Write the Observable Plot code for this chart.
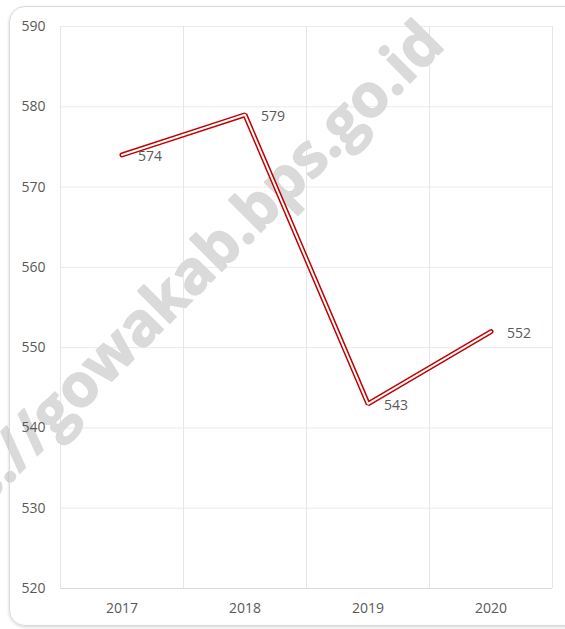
<!DOCTYPE html>
<html>
<head>
<meta charset="utf-8">
<script src="https://cdn.jsdelivr.net/npm/d3@7"></script>
<script src="https://cdn.jsdelivr.net/npm/@observablehq/plot@0.6"></script>
<style>
  html, body { margin: 0; padding: 0; background: #fff; }
  #wrap { position: relative; width: 565px; height: 629px; overflow: hidden; }
  #frame {
    position: absolute; left: 9px; top: 6px; width: 600px; height: 620px;
    border: 1.5px solid #dadada; border-radius: 16px;
    box-shadow: 0 1px 3px rgba(0,0,0,0.18);
    pointer-events: none; box-sizing: border-box;
  }
</style>
</head>
<body>
<div id="wrap"><div id="frame"></div></div>
<script>
const years = [2017, 2018, 2019, 2020];
const values = [574, 579, 543, 552];
const yTicks = [520, 530, 540, 550, 560, 570, 580, 590];
const watermark = ["https://gowakab.bps.go.id"];

const data = years.map((year, i) => ({ year, value: values[i] }));
const boundaries = [years[0] - 0.5, ...years.map(y => y + 0.5)];
const font = "'Open Sans', sans-serif";
const red = "#C00000";

const chart = Plot.plot({
  width: 565,
  height: 629,
  marginLeft: 60,
  marginRight: 13,
  marginTop: 26,
  marginBottom: 41,
  style: { fontFamily: font, fontSize: "14px", color: "#595959", background: "white" },
  x: { domain: [years[0] - 0.5, years[years.length - 1] + 0.5], label: null },
  y: { domain: [520, 590], label: null },
  marks: [
    Plot.ruleY(yTicks.slice(1), { y: d => d, stroke: "#ebebeb", strokeWidth: 1 }),
    Plot.ruleX(boundaries, { x: d => d, stroke: "#e6e6e6", strokeWidth: 1 }),
    Plot.ruleY([520], { stroke: "#d9d9d9", strokeWidth: 1 }),
    Plot.text(watermark, {
      text: d => d, frameAnchor: "top-right", dx: -106, dy: 20,
      textAnchor: "end", lineAnchor: "bottom", rotate: -45, fontSize: 60, fontWeight: "bold",
      fill: "#dadada", stroke: "#dadada", strokeWidth: 1.4, fontFamily: font
    }),
    Plot.axisY({ ticks: yTicks, tickSize: 0, tickPadding: 15, tickFormat: "d", fill: "#595959", fontSize: 14 }),
    Plot.axisX({ ticks: years, tickSize: 0, tickPadding: 15, tickFormat: "d", fill: "#595959", fontSize: 14 }),
    Plot.line(data, { x: "year", y: "value", stroke: red, strokeWidth: 5, strokeLinejoin: "miter" }),
    Plot.line(data, { x: "year", y: "value", stroke: "white", strokeWidth: 2, strokeLinejoin: "miter" }),
    Plot.text(data, { x: "year", y: "value", text: d => String(d.value), textAnchor: "start", dx: 16, dy: 2, fill: "#595959", fontSize: 14 })
  ]
});
document.getElementById("wrap").prepend(chart);
</script>
</body>
</html>
